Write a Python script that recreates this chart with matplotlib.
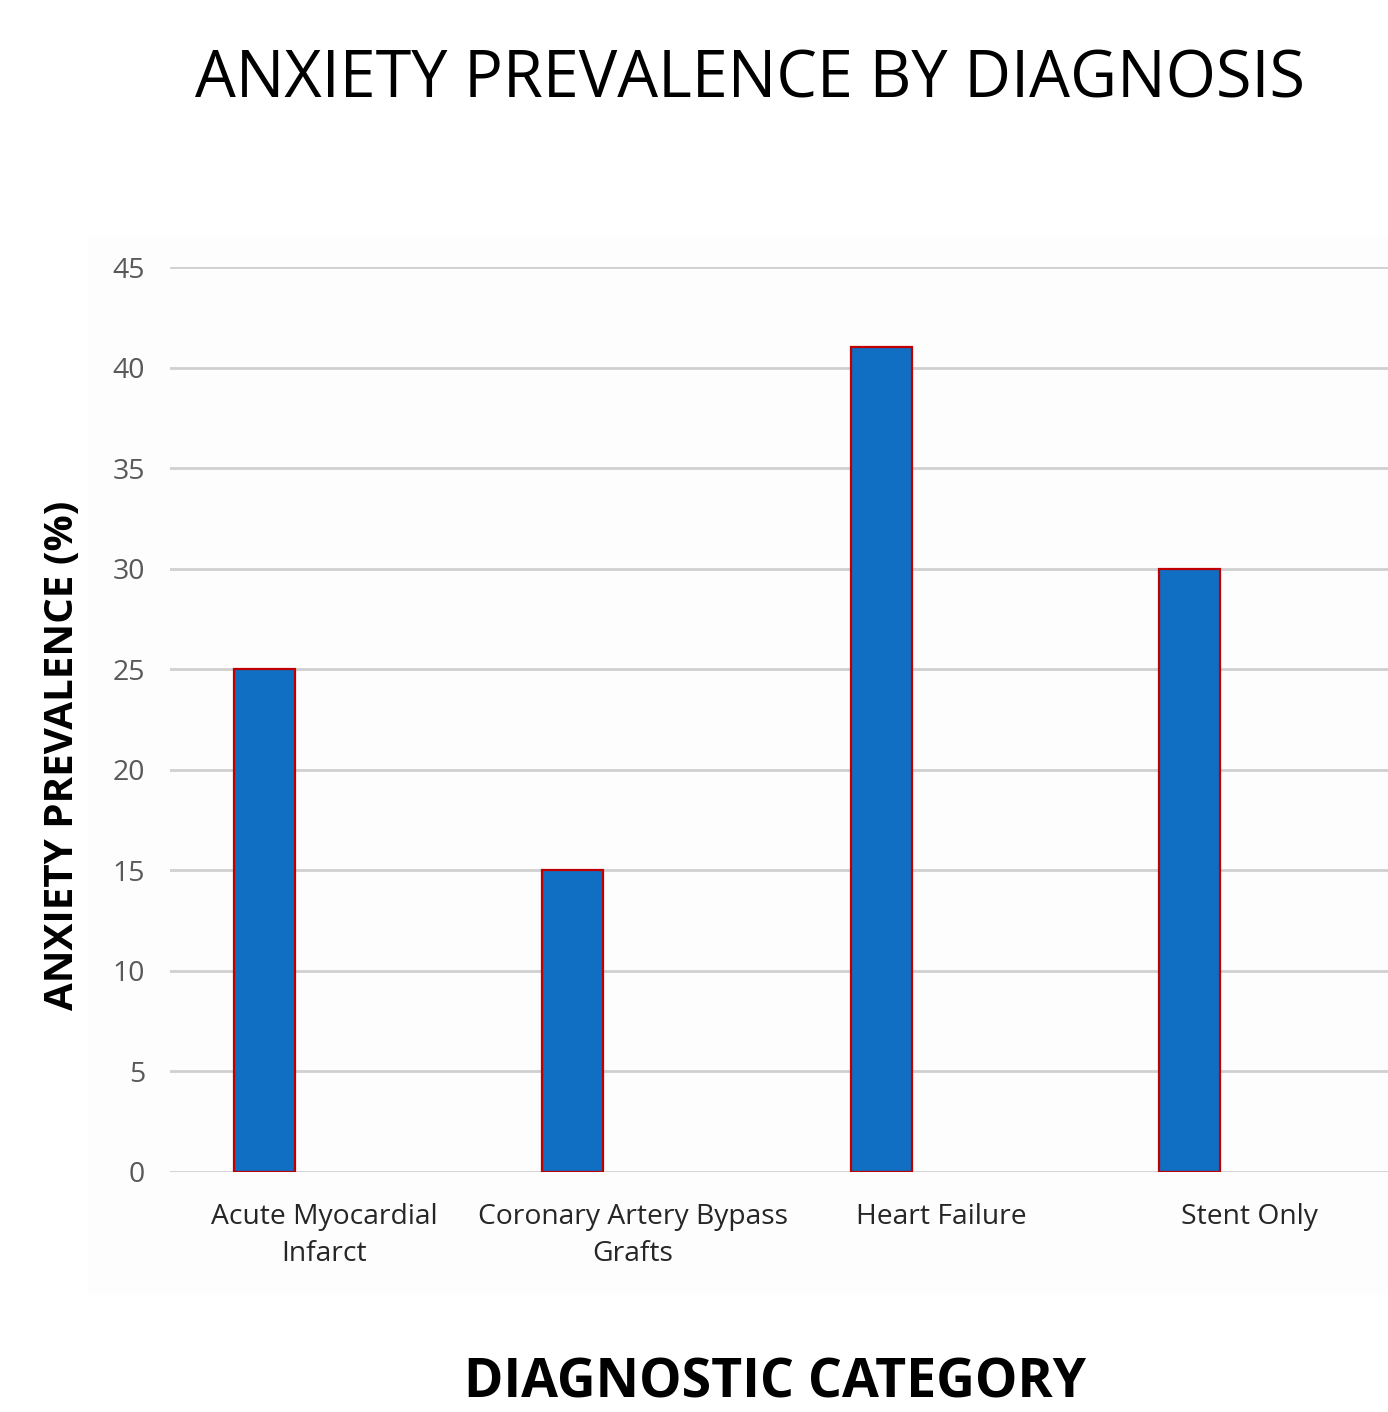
import matplotlib
matplotlib.use("Agg")
import matplotlib.pyplot as plt
from matplotlib.patches import Rectangle

# Data
categories = ["Acute Myocardial\nInfarct", "Coronary Artery Bypass\nGrafts", "Heart Failure", "Stent Only"]
prevalence = [25, 15, 41, 30]
y_ticks = [0, 5, 10, 15, 20, 25, 30, 35, 40, 45]

W, H = 1388, 1412
fig = plt.figure(figsize=(W / 100, H / 100), dpi=100)
fig.patch.set_facecolor("white")

# faint chart-area panel behind the plot
fig.patches.append(Rectangle((88 / W, 1 - 1295 / H), (W - 88) / W, (1295 - 237) / H,
                             transform=fig.transFigure, facecolor="#FDFDFD",
                             edgecolor="none", zorder=-5))

ax = fig.add_axes([170 / W, 1 - 1172 / H, 1234 / W, 905 / H])
ax.set_zorder(2)
ax.set_facecolor("none")

x = list(range(len(categories)))
ax.bar([i - 0.194 for i in x], prevalence, width=0.198, color="#106EC3",
       edgecolor="#C00000", linewidth=1.6, zorder=3)

ax.set_xlim(-0.5, 3.5)
ax.set_ylim(0, 45)
ax.set_yticks(y_ticks)
ax.set_yticklabels([str(v) for v in y_ticks], fontfamily="Open Sans",
                   fontsize=20.5, color="#595959")
ax.set_xticks(x)
ax.set_xticklabels(categories, fontfamily="Open Sans", fontsize=20.3,
                   color="#262626", linespacing=1.45)
ax.tick_params(axis="both", length=0)
ax.tick_params(axis="y", pad=18)
ax.tick_params(axis="x", pad=22)
ax.grid(axis="y", color="#D0D0D0", linewidth=2, zorder=0)
for s in ax.spines.values():
    s.set_visible(False)

fig.text(750 / W, 1 - 80 / H, "ANXIETY PREVALENCE BY DIAGNOSIS", ha="center",
         va="center", fontfamily="Open Sans", fontsize=46.5, color="black")
fig.text(63 / W, 1 - 755 / H, "ANXIETY PREVALENCE (%)", ha="center", va="center",
         rotation=90, fontfamily="Open Sans", fontweight="bold", fontsize=29,
         color="black")
fig.text(775 / W, 1 - 1410 / H, "DIAGNOSTIC CATEGORY", ha="center", va="bottom",
         fontfamily="Open Sans", fontweight="bold", fontsize=38.5, color="black")

fig.savefig("out.png", dpi=100)
